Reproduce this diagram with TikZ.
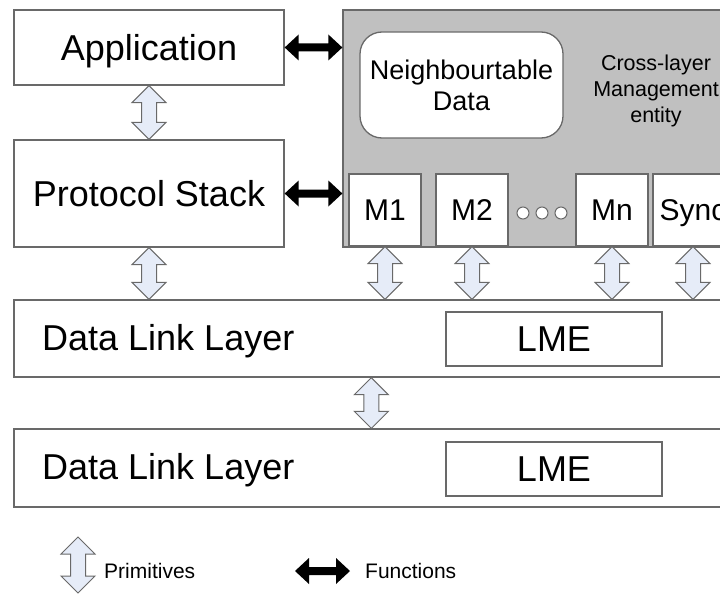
\documentclass[tikz,border=0pt]{standalone}
\usepackage{fontspec}
\setmainfont{Liberation Sans}
\usetikzlibrary{calc}
\definecolor{bordergray}{RGB}{105,105,105}
\definecolor{boxgray}{RGB}{192,192,192}
\definecolor{primblue}{RGB}{230,236,248}
\tikzset{
  box/.style={draw=bordergray, line width=1.3pt, fill=white, inner sep=0pt},
  bigtext/.style={font=\fontsize{36}{43}\selectfont, text height=25.8pt, text depth=0pt},
  midtext/.style={font=\fontsize{30}{36}\selectfont, text height=21.5pt, text depth=0pt},
  smalltext/.style={font=\fontsize{21}{25}\selectfont, text height=15pt, text depth=0pt, inner sep=0pt},
  mbox/.style={box, midtext, minimum width=72pt, minimum height=72pt},
  dotc/.style={circle, draw=bordergray, fill=white, line width=1pt, minimum size=12pt, inner sep=0pt},
  primstyle/.style={draw=bordergray, fill=primblue, line width=1pt, line join=miter},
  funcstyle/.style={fill=black}
}
\newcommand\primarrow[2]{%
  \draw[primstyle] let \p1=(#1), \p2=(#2) in
    (\x1,\y1) -- (\x1+17pt,\y1-17pt) -- (\x1+7.5pt,\y1-17pt) -- (\x1+7.5pt,\y2+17pt)
    -- (\x1+17pt,\y2+17pt) -- (\x1,\y2) -- (\x1-17pt,\y2+17pt) -- (\x1-7.5pt,\y2+17pt)
    -- (\x1-7.5pt,\y1-17pt) -- (\x1-17pt,\y1-17pt) -- cycle;}
\newcommand\funcarrow[2]{%
  \fill[funcstyle] let \p1=(#1), \p2=(#2) in
    (\x1,\y1) -- (\x1+14pt,\y1+13pt) -- (\x1+14pt,\y1+4pt) -- (\x2-14pt,\y1+4pt)
    -- (\x2-14pt,\y1+13pt) -- (\x2,\y1) -- (\x2-14pt,\y1-13pt) -- (\x2-14pt,\y1-4pt)
    -- (\x1+14pt,\y1-4pt) -- (\x1+14pt,\y1-13pt) -- cycle;}
\begin{document}
\begin{tikzpicture}[x=1pt,y=-1pt]
\useasboundingbox (0,0) rectangle (720,594);
\clip (0,0) rectangle (720,594);
\fill[white] (0,0) rectangle (720,594);

% left column
\node[box, bigtext, minimum width=270pt, minimum height=75pt] (app) at (149,47.5) {Application};
\node[box, bigtext, minimum width=270pt, minimum height=107pt] (ps) at (149,193.5) {Protocol Stack};

% cross-layer management entity
\node[draw=bordergray, fill=boxgray, line width=1.3pt, inner sep=0pt,
      minimum width=417pt, minimum height=237pt] (cl) at (551.5,128.5) {};
\node[align=center, font=\fontsize{21.5}{26}\selectfont, inner sep=0pt] (clt) at (656,91)
  {Cross-layer\\Management\\entity};
\node[draw=bordergray, fill=white, line width=1.3pt, rounded corners=22pt, inner sep=0pt,
      minimum width=203pt, minimum height=106pt, align=center,
      font=\fontsize{27}{31}\selectfont] (nt) at (461.5,85) {Neighbourtable\\Data};
\node[mbox] (m1) at (385,210) {M1};
\node[mbox] (m2) at (472,210) {M2};
\node[dotc] (d1) at (523,213) {};
\node[dotc] (d2) at (542,213) {};
\node[dotc] (d3) at (561,213) {};
\node[mbox] (mn) at (612,210) {Mn};
\node[mbox, minimum width=80pt] (sync) at (693,210) {Sync};

% data link layers
\node[box, minimum width=746pt, minimum height=77pt] (dll1) at (387,338.5) {};
\node[bigtext, anchor=west, inner sep=0pt] (dll1t) at (42,338) {Data Link Layer};
\node[box, bigtext, minimum width=216pt, minimum height=54pt] (lme1) at (554,339) {LME};
\node[box, minimum width=746pt, minimum height=78pt] (dll2) at (387,468) {};
\node[bigtext, anchor=west, inner sep=0pt] (dll2t) at (42,467) {Data Link Layer};
\node[box, bigtext, minimum width=216pt, minimum height=54pt] (lme2) at (554,469) {LME};

% primitives
\primarrow{app.south}{ps.north}
\primarrow{ps.south}{ps.south |- dll1.north}
\primarrow{m1.south}{m1.south |- dll1.north}
\primarrow{m2.south}{m2.south |- dll1.north}
\primarrow{mn.south}{mn.south |- dll1.north}
\primarrow{sync.south}{sync.south |- dll1.north}
\coordinate (mid) at ($(dll1.south west)+(358,0)$);
\primarrow{mid}{mid |- dll2.north}

% functions
\funcarrow{app.east}{cl.west |- app.east}
\funcarrow{ps.east}{cl.west |- ps.east}

% legend
\coordinate (lp1) at (78,537);
\coordinate (lp2) at (78,593);
\primarrow{lp1}{lp2}
\node[smalltext, anchor=west] (lpt) at (104,571) {Primitives};
\coordinate (lf1) at (295,571);
\coordinate (lf2) at (350,571);
\funcarrow{lf1}{lf2}
\node[smalltext, anchor=west] (lft) at (365,571) {Functions};
\end{tikzpicture}
\end{document}
